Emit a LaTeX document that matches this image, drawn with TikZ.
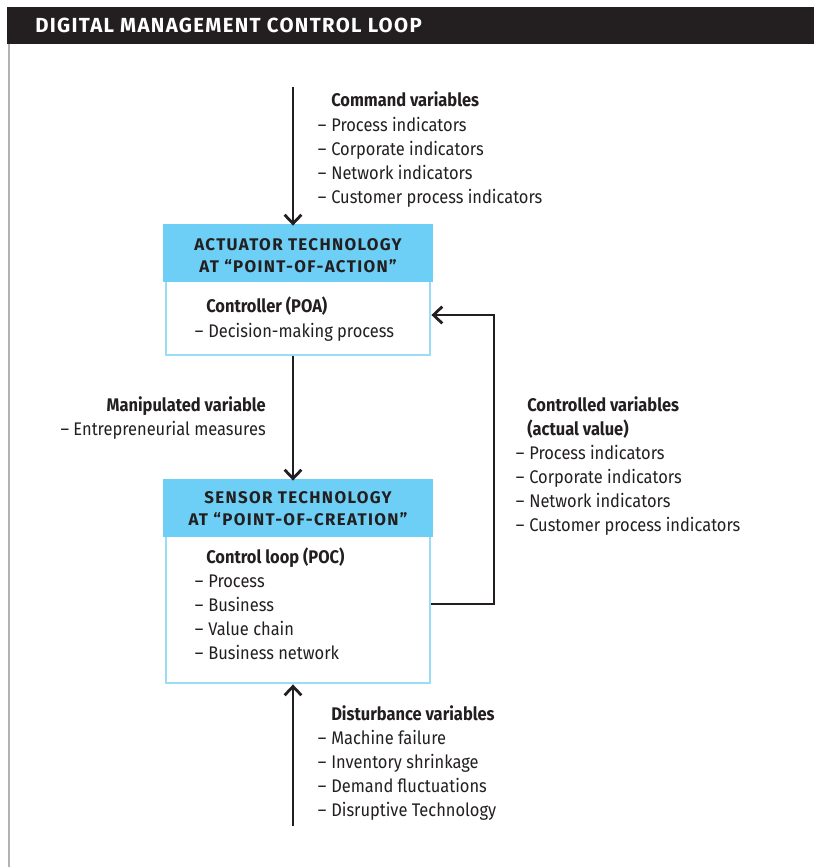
\documentclass[tikz,border=0pt]{standalone}
\usepackage{fontspec}
\setmainfont[FakeStretch=0.9]{Fira Sans}
\newfontfamily\headfont[LetterSpace=8]{Fira Sans}
\newfontfamily\titlefont[LetterSpace=6.5]{Fira Sans}
\usepackage{tikz}
\usetikzlibrary{arrows.meta}
\definecolor{inkgray}{HTML}{231F20}
\definecolor{headblue}{HTML}{6DCFF6}
\definecolor{rimblue}{HTML}{9ADCF6}
\newcommand{\dsh}{\makebox[0pt][r]{–\hspace{0.12cm}}}
\tikzset{
  box/.style={draw=rimblue, line width=2pt, fill=white, minimum width=6.6cm, inner sep=0pt},
  txt/.style={inner sep=0pt, anchor=base west, text=inkgray, font=\fontsize{13}{15}\selectfont},
  bold/.style={txt, font=\fontsize{13}{15}\selectfont\bfseries},
  head/.style={inner sep=0pt, anchor=base, text=inkgray, font=\headfont\fontsize{12}{14}\selectfont\bfseries},
  flow/.style={inkgray, line width=2pt, -{Straight Barb[length=2.2mm, width=4.2mm, line width=2pt]}}
}
\begin{document}
\begin{tikzpicture}[x=0.025cm, y=-0.025cm]
\useasboundingbox (0,0) rectangle (814,867);
\fill[inkgray] (7,7) rectangle (814,44);
\node[inner sep=0pt, anchor=base west, text=white, font=\titlefont\fontsize{14.5}{16}\selectfont\bfseries] (title) at (35,33) {DIGITAL MANAGEMENT CONTROL LOOP};
\draw[black!30, line width=2pt] (9,44) -- (9,867);

\node[box, minimum height=3.2cm] (poa) at (298,291) {};
\fill[headblue] ([xshift=-1pt, yshift=1pt]poa.north west) rectangle ([xshift=1pt, yshift=-1.4cm]poa.north east);
\node[head] (poa1) at (298,250) {ACTUATOR TECHNOLOGY};
\node[head] (poa2) at (298,272) {AT “POINT-OF-ACTION”};
\node[bold] (poah) at (206,312) {Controller (POA)};
\node[txt] (poai) at (208,337) {\dsh Decision-making process};

\node[box, minimum height=5.025cm] (poc) at (298,582.5) {};
\fill[headblue] ([xshift=-1pt, yshift=1pt]poc.north west) rectangle ([xshift=1pt, yshift=-1.4cm]poc.north east);
\node[head] (poc1) at (298,503) {SENSOR TECHNOLOGY};
\node[head] (poc2) at (298,525) {AT “POINT-OF-CREATION”};
\node[bold] (poch) at (206,563) {Control loop (POC)};
\foreach \t [count=\i] in {Process, Business, Value chain, Business network}
  \node[txt] (poc\i i) at (208,{563+24*\i}) {\dsh\t};

\node[bold] (cmdh) at (331,107) {Command variables};
\foreach \t [count=\i] in {Process indicators, Corporate indicators, Network indicators, Customer process indicators}
  \node[txt] (cmd\i) at (331,{107+24*\i}) {\dsh\t};

\node[bold, anchor=base east] (manh) at (266,411) {Manipulated variable};
\node[txt, anchor=base east] (man1) at (266,435) {– Entrepreneurial measures};

\node[bold] (ctlh) at (527,411) {Controlled variables};
\node[bold] (ctlh2) at (527,435) {(actual value)};
\foreach \t [count=\i] in {Process indicators, Corporate indicators, Network indicators, Customer process indicators}
  \node[txt] (ctl\i) at (529,{435+24*\i}) {\dsh\t};

\node[bold] (dish) at (331,720) {Disturbance variables};
\foreach \t [count=\i] in {Machine failure, Inventory shrinkage, Demand fluctuations, Disruptive Technology}
  \node[txt] (dis\i) at (331,{720+24*\i}) {\dsh\t};

\coordinate (cmdtop) at (293,87);
\coordinate (distop) at (293,826);
\coordinate (fbtop) at (494,315);
\coordinate (fbbot) at (494,604);
\draw[flow] (cmdtop) -- (poa.north -| cmdtop);
\draw[flow] (poa.south -| cmdtop) -- (poc.north -| cmdtop);
\draw[flow] (distop) -- (poc.south -| distop);
\draw[flow] (poc.east |- fbbot) -- (fbbot) -- (fbtop) -- (poa.east |- fbtop);
\end{tikzpicture}
\end{document}
